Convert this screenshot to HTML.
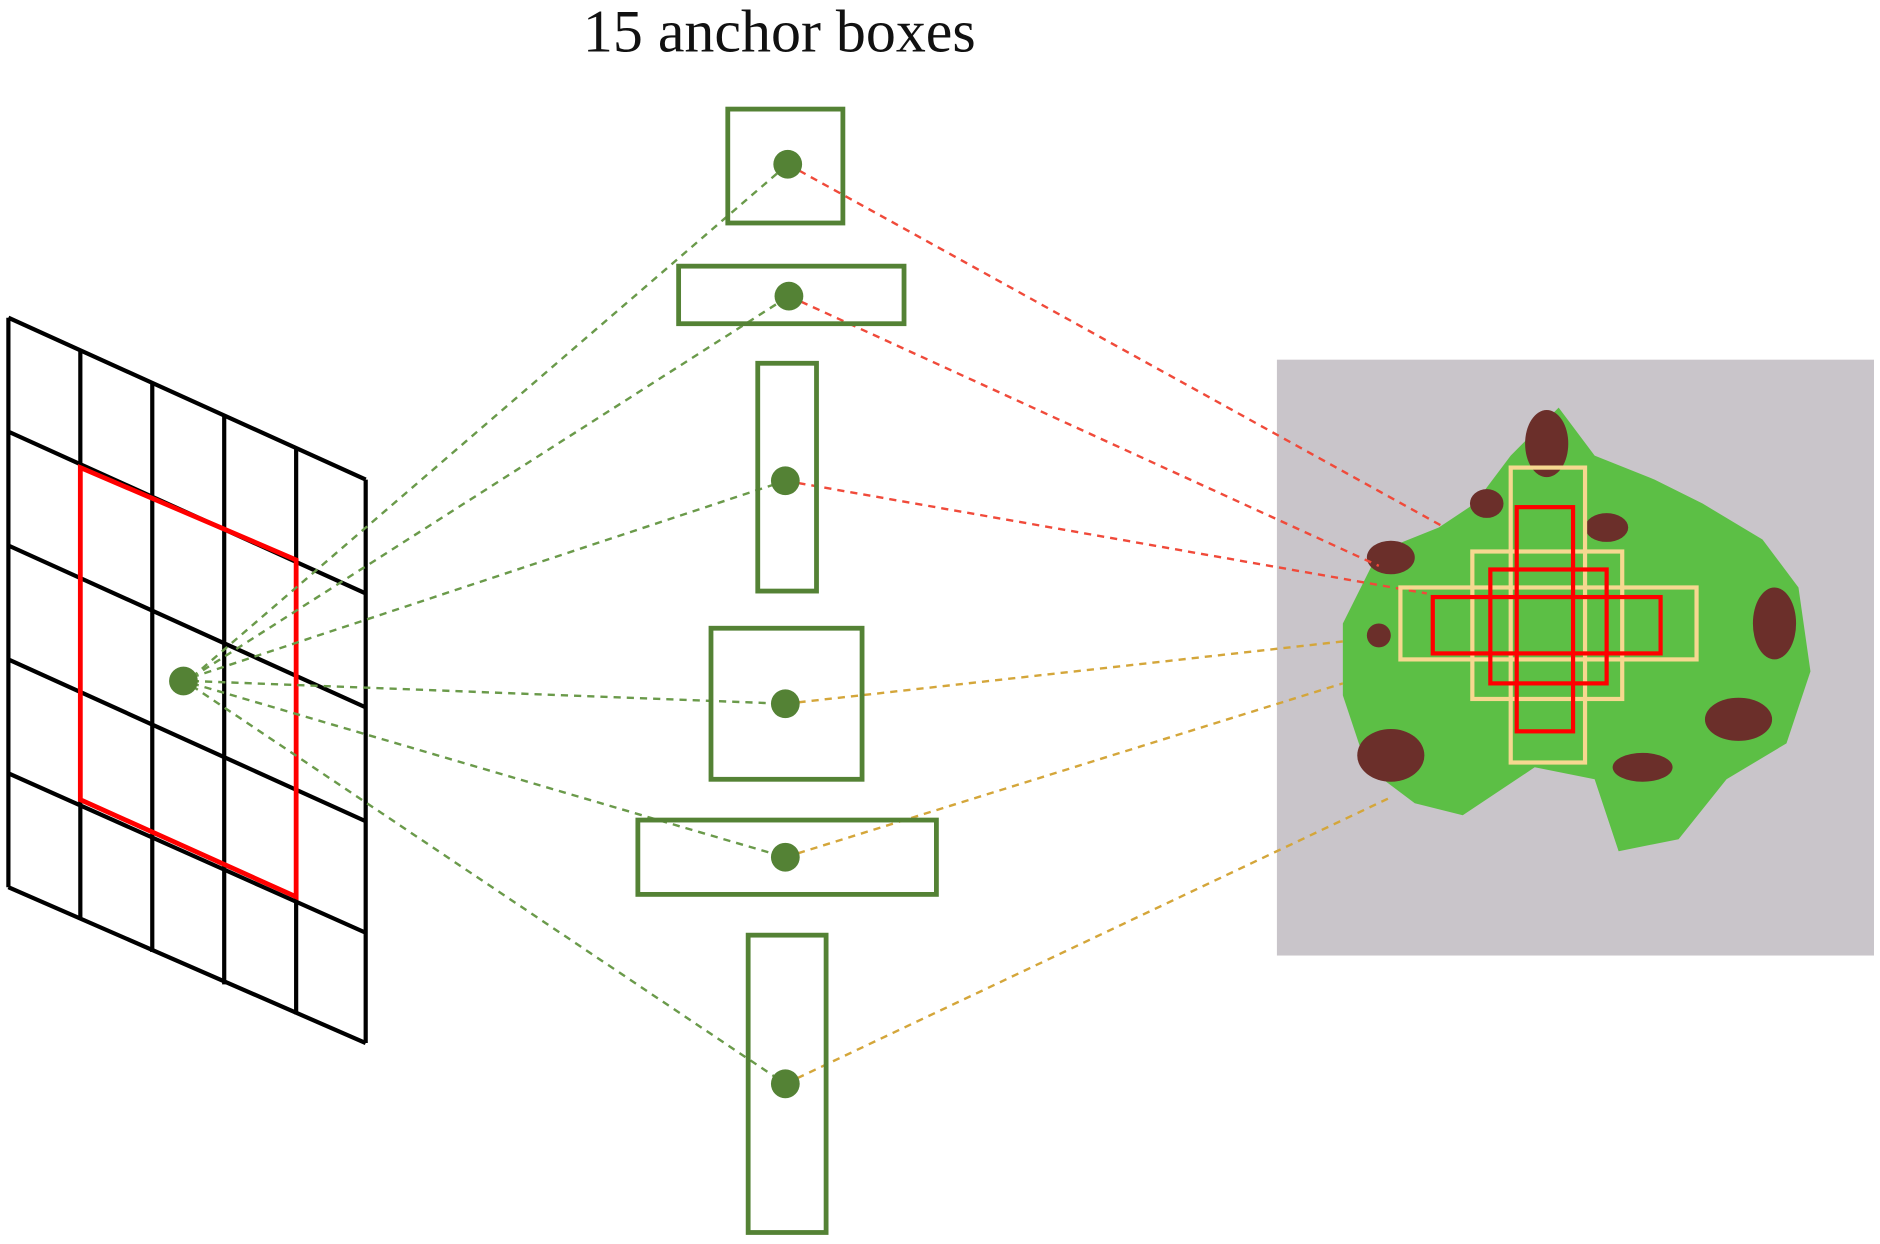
<!DOCTYPE html>
<html><head><meta charset="utf-8"><style>html,body{margin:0;padding:0;background:#fff}svg{display:block}</style></head>
<body>
<svg width="1880" height="1244" viewBox="0 0 1568 1037.6" preserveAspectRatio="none" xmlns="http://www.w3.org/2000/svg">
<rect width="1568" height="1038" fill="#fff"/>
<text x="650" y="43" text-anchor="middle" font-family="Liberation Serif, serif" font-size="50" fill="#111">15 anchor boxes</text>
<!-- grid -->
<g stroke="#000" stroke-width="3.5" fill="none">
<line x1="7" y1="265" x2="7" y2="740"/>
<line x1="67" y1="292" x2="67" y2="767"/>
<line x1="127" y1="319" x2="127" y2="794"/>
<line x1="187" y1="346" x2="187" y2="821"/>
<line x1="247" y1="373" x2="247" y2="846"/>
<line x1="305" y1="400" x2="305" y2="870"/>
<line x1="7" y1="265" x2="305" y2="400"/>
<line x1="7" y1="360" x2="305" y2="495"/>
<line x1="7" y1="455" x2="305" y2="590"/>
<line x1="7" y1="550" x2="305" y2="685"/>
<line x1="7" y1="645" x2="305" y2="778"/>
<line x1="7" y1="740" x2="305" y2="870"/>
</g>
<polygon points="67,390 247,467 247,748 67,667" fill="none" stroke="#f00" stroke-width="4"/>
<!-- green dashed -->
<g stroke="#6a9a4a" stroke-width="2" stroke-dasharray="6,5" fill="none">
<line x1="160" y1="565" x2="657" y2="137"/>
<line x1="160" y1="565" x2="658" y2="247"/>
<line x1="160" y1="565" x2="655" y2="401"/>
<line x1="160" y1="568" x2="655" y2="587"/>
<line x1="160" y1="570" x2="655" y2="715"/>
<line x1="160" y1="572" x2="655" y2="904"/>
</g>
<!-- photo -->
<rect x="1065" y="300" width="498" height="497" fill="#c9c5ca"/>
<g fill="#5cbf45">
<path d="M1150,460 L1200,440 L1230,420 L1260,380 L1300,340 L1330,380 L1380,400 L1420,420 L1470,450 L1500,490 L1510,560 L1490,620 L1440,650 L1400,700 L1350,710 L1330,650 L1280,640 L1220,680 L1180,670 L1140,640 L1120,580 L1120,520 Z"/>
</g>
<g fill="#6b2f2a">
<ellipse cx="1160" cy="465" rx="20" ry="14"/>
<ellipse cx="1160" cy="630" rx="28" ry="22"/>
<ellipse cx="1480" cy="520" rx="18" ry="30"/>
<ellipse cx="1450" cy="600" rx="28" ry="18"/>
<ellipse cx="1370" cy="640" rx="25" ry="12"/>
<ellipse cx="1290" cy="370" rx="18" ry="28"/>
<ellipse cx="1240" cy="420" rx="14" ry="12"/>
<ellipse cx="1340" cy="440" rx="18" ry="12"/>
<ellipse cx="1150" cy="530" rx="10" ry="10"/>
</g>
<!-- red dashed / yellow dashed -->
<g stroke="#f04a3a" stroke-width="2" stroke-dasharray="6,5" fill="none">
<line x1="657" y1="137" x2="1205" y2="440"/>
<line x1="658" y1="247" x2="1150" y2="472"/>
<line x1="655" y1="401" x2="1190" y2="495"/>
</g>
<g stroke="#d4a63a" stroke-width="2" stroke-dasharray="6,5" fill="none">
<line x1="655" y1="587" x2="1120" y2="535"/>
<line x1="655" y1="715" x2="1120" y2="570"/>
<line x1="655" y1="904" x2="1160" y2="665"/>
</g>
<g fill="none" stroke="#f6d890" stroke-width="3.5">
<rect x="1260" y="390" width="62" height="246"/>
<rect x="1168" y="490" width="247" height="60"/>
<rect x="1228" y="460" width="125" height="123"/>
</g>
<g fill="none" stroke="#f00" stroke-width="3.5">
<rect x="1265" y="423" width="47" height="187"/>
<rect x="1195" y="498" width="190" height="47"/>
<rect x="1243" y="475" width="97" height="95"/>
</g>
<!-- anchors -->
<g fill="none" stroke="#548235" stroke-width="4">
<rect x="607" y="91" width="96" height="95"/>
<rect x="566" y="222" width="188" height="48"/>
<rect x="632" y="303" width="49" height="190"/>
<rect x="593" y="524" width="126" height="126"/>
<rect x="532" y="684" width="249" height="62"/>
<rect x="624" y="780" width="65" height="248"/>
</g>
<g fill="#548235">
<circle cx="153" cy="568" r="12"/>
<circle cx="657" cy="137" r="12"/>
<circle cx="658" cy="247" r="12"/>
<circle cx="655" cy="401" r="12"/>
<circle cx="655" cy="587" r="12"/>
<circle cx="655" cy="715" r="12"/>
<circle cx="655" cy="904" r="12"/>
</g>
</svg>
</body></html>
